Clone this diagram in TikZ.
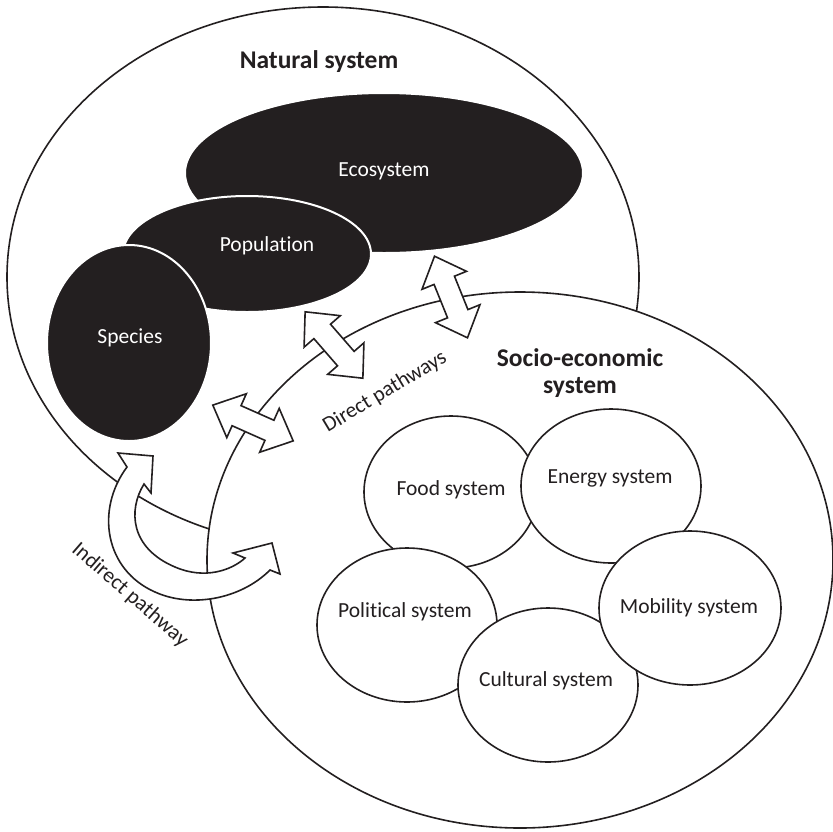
\documentclass[tikz,border=0pt]{standalone}
\usepackage{fontspec}
\setmainfont[Ligatures=NoCommon]{Carlito}
\usetikzlibrary{shapes.geometric}
\definecolor{ink}{RGB}{35,31,32}

\tikzset{
  txt/.style={font=\fontsize{21.5}{29}\selectfont,text=ink,align=center},
  titletxt/.style={txt,font=\fontsize{25.5}{27}\selectfont\bfseries},
  outer/.style={ellipse,draw=ink,line width=1.6pt,fill=white,inner sep=0pt},
  level/.style={ellipse,fill=ink,draw=white,line width=2pt,inner sep=0pt},
  subsys/.style={ellipse,draw=ink,line width=1.6pt,fill=white,inner sep=0pt,
    minimum width=180,minimum height=154},
  band/.style={draw=ink,line width=1.6pt,fill=white,line join=miter},
  twoway/.pic={
    \draw[band] (-44,0) -- (-18,24) -- (-18,11) -- (18,11) -- (18,24) -- (44,0)
      -- (18,-24) -- (18,-11) -- (-18,-11) -- (-18,-24) -- cycle;
  }
}

\begin{document}
\begin{tikzpicture}[x=1pt,y=-1pt]
    \useasboundingbox (0,0) rectangle (833,831);
    % Natural system
    \node[outer,minimum width=632,minimum height=540] (natural) at (323,277) {};
    \node[titletxt] (naturaltitle) at (319,62) {Natural system};
    \node[level,minimum width=398,minimum height=160] (eco) at (384,173) {};
    \node[level,minimum width=248,minimum height=116] (pop) at (247,254) {};
    \node[level,minimum width=164,minimum height=196] (species) at (129,343) {};
    \node[txt,text=white] (ecotxt) at (384,171) {Ecosystem};
    \node[txt,text=white] (poptxt) at (267,246) {Population};
    \node[txt,text=white] (speciestxt) at (130,338) {Species};
    % Socio-economic system
    \node[outer,minimum width=626,minimum height=536] (socio) at (520,560) {};
    \node[titletxt] (sociotitle) at (580,373) {Socio-economic\\system};
    \node[subsys,minimum width=174,minimum height=152] (food) at (451,492) {};
    \node[subsys] (energy) at (611,486) {};
    \node[subsys] (political) at (407,625) {};
    \node[subsys] (cultural) at (548,685) {};
    \node[subsys,minimum width=182] (mobility) at (690,608) {};
    \node[txt] (foodtxt) at (451,490) {Food system};
    \node[txt] (energytxt) at (610,478) {Energy system};
    \node[txt] (politicaltxt) at (405,612) {Political system};
    \node[txt] (culturaltxt) at (546,681) {Cultural system};
    \node[txt] (mobilitytxt) at (689,608) {Mobility system};
    % Direct pathways
    \pic[rotate=-24] at (253,423) {twoway};
    \pic[rotate=-49] at (334,345) {twoway};
    \pic[rotate=-68] at (451,297) {twoway};
    \node[txt,rotate=31] (directtxt) at (385,392) {Direct pathways};
    % Indirect pathway
    \draw[band] (153,456) -- (151,493) -- (144,484)
      .. controls (128,510) and (130,548) .. (175,567)
      .. controls (205,580) and (232,570) .. (245,558)
      -- (233,553) -- (272,543) -- (280,574) -- (270,570)
      .. controls (240,600) and (190,608) .. (155,592)
      .. controls (105,570) and (95,510) .. (127,467)
      -- (118,453) -- cycle;
    \node[txt,rotate=-41] (indirecttxt) at (130,595) {Indirect pathway};
\end{tikzpicture}
\end{document}
